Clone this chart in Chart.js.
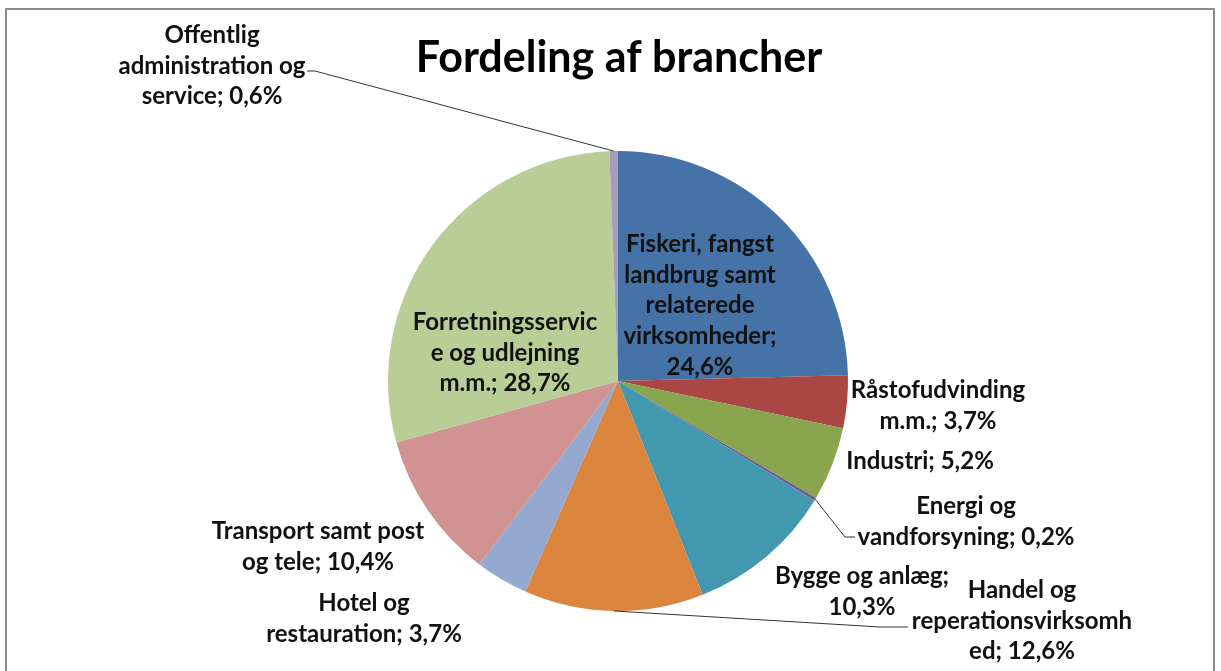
<!DOCTYPE html>
<html>
<head>
<meta charset="utf-8">
<script src="https://cdn.jsdelivr.net/npm/chart.js@4.4.1/dist/chart.umd.min.js"></script>
<style>
  html, body { margin: 0; padding: 0; background: #fff; }
  #wrap { width: 1221px; height: 671px; position: relative; }
</style>
</head>
<body>
<div id="wrap"><canvas id="myChart" width="1221" height="671"></canvas></div>
<script>
// data
const categories = [
    'Fiskeri, fangst landbrug samt relaterede virksomheder',
    'Råstofudvinding m.m.',
    'Industri',
    'Energi og vandforsyning',
    'Bygge og anlæg',
    'Handel og reperationsvirksomhed',
    'Hotel og restauration',
    'Transport samt post og tele',
    'Forretningsservice og udlejning m.m.',
    'Offentlig administration og service'
];
const shares = [24.6, 3.7, 5.2, 0.2, 10.3, 12.6, 3.7, 10.4, 28.7, 0.6];
const colors = ['#4572A7', '#AA4643', '#89A54E', '#71588F', '#4198AF',
                '#DB843D', '#93A9CF', '#D19392', '#B9CD96', '#A99BBD'];

// label text as wrapped in the original, {v} = value
const labelLines = [
    ['Fiskeri, fangst', 'landbrug samt', 'relaterede', 'virksomheder;', '{v}'],
    ['Råstofudvinding', 'm.m.; {v}'],
    ['Industri; {v}'],
    ['Energi og', 'vandforsyning; {v}'],
    ['Bygge og anlæg;', '{v}'],
    ['Handel og', 'reperationsvirksomh', 'ed; {v}'],
    ['Hotel og', 'restauration; {v}'],
    ['Transport samt post', 'og tele; {v}'],
    ['Forretningsservic', 'e og udlejning', 'm.m.; {v}'],
    ['Offentlig', 'administration og', 'service; {v}']
];

// label placement (x centre, y of first line) and optional leader elbow
const labelPos = [
    {x: 700, y: 244},
    {x: 938, y: 390},
    {x: 920, y: 461},
    {x: 966, y: 506, leader: [[845, 537], [855, 537]]},
    {x: 862, y: 576},
    {x: 1022, y: 590, leader: [[880, 627], [908, 627]]},
    {x: 364, y: 603},
    {x: 318, y: 531},
    {x: 505, y: 322},
    {x: 212, y: 35, leader: [[315, 71], [307, 71]]}
];

const FONT = 'Lato, "Open Sans", sans-serif';

function fmt(v) {
    return v.toFixed(1).replace('.', ',') + '%';
}

const labelPlugin = {
    id: 'labelPlugin',
    afterDraw(chart) {
        const ctx = chart.ctx;
        const meta = chart.getDatasetMeta(0);
        ctx.save();

        // frame
        ctx.strokeStyle = '#8c8c8c';
        ctx.lineWidth = 2;
        ctx.strokeRect(6, 9, 1208, 680);

        // title
        ctx.fillStyle = '#000';
        ctx.textAlign = 'center';
        ctx.textBaseline = 'middle';
        ctx.font = 'bold 43px ' + FONT;
        ctx.fillText('Fordeling af brancher', 619, 58);

        // leader lines
        ctx.strokeStyle = '#333';
        ctx.lineWidth = 1;
        meta.data.forEach((arc, i) => {
            const p = labelPos[i];
            if (!p.leader) return;
            const mid = (arc.startAngle + arc.endAngle) / 2;
            const sx = arc.x + Math.cos(mid) * arc.outerRadius;
            const sy = arc.y + Math.sin(mid) * arc.outerRadius;
            ctx.beginPath();
            ctx.moveTo(sx, sy);
            p.leader.forEach(pt => ctx.lineTo(pt[0], pt[1]));
            ctx.stroke();
        });

        // labels
        ctx.font = 'bold 24px ' + FONT;
        ctx.fillStyle = '#111';
        labelLines.forEach((lines, i) => {
            const p = labelPos[i];
            lines.forEach((ln, j) => {
                ctx.fillText(ln.replace('{v}', fmt(shares[i])), p.x, p.y + j * 30.8);
            });
        });
        ctx.restore();
    }
};

const ctx = document.getElementById('myChart').getContext('2d');
const chart = new Chart(ctx, {
    type: 'pie',
    data: {
        labels: categories,
        datasets: [{
            data: shares,
            backgroundColor: colors,
            borderWidth: 0
        }]
    },
    options: {
        responsive: false,
        animation: false,
        layout: {padding: {top: 151, bottom: 60, left: 388, right: 373}},
        plugins: {
            legend: {display: false},
            tooltip: {enabled: false}
        }
    },
    plugins: [labelPlugin]
});
</script>
</body>
</html>
